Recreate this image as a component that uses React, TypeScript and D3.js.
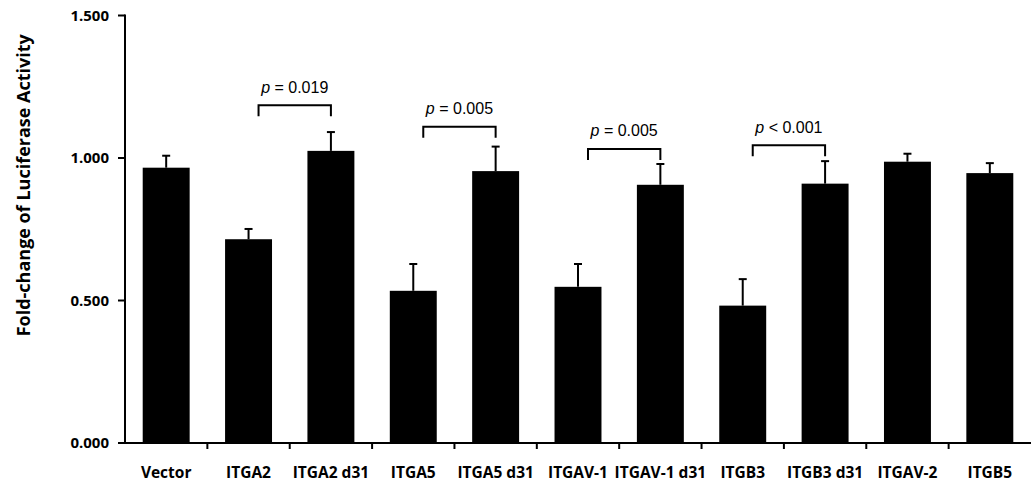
import React from "react";
import * as d3 from "d3";

// Fold-change of luciferase activity per construct (mean and SEM)
const categories = [
  "Vector",
  "ITGA2",
  "ITGA2 d31",
  "ITGA5",
  "ITGA5 d31",
  "ITGAV-1",
  "ITGAV-1 d31",
  "ITGB3",
  "ITGB3 d31",
  "ITGAV-2",
  "ITGB5",
];
const means = [0.966, 0.715, 1.025, 0.534, 0.954, 0.548, 0.906, 0.482, 0.91, 0.987, 0.947];
const errors = [0.042, 0.036, 0.066, 0.094, 0.086, 0.08, 0.073, 0.093, 0.079, 0.028, 0.035];
const yTicks = [0, 0.5, 1.0, 1.5];

// significance brackets: from / to category, bracket height, label
const sigFrom = ["ITGA2", "ITGA5", "ITGAV-1", "ITGB3"];
const sigTo = ["ITGA2 d31", "ITGA5 d31", "ITGAV-1 d31", "ITGB3 d31"];
const sigLevel = [1.185, 1.11, 1.032, 1.045];
const sigOp = ["=", "=", "=", "<"];
const sigValue = ["0.019", "0.005", "0.005", "0.001"];

const W = 1031;
const H = 485;
const margin = { left: 125, right: 0, top: 15.5, bottom: 42 };

export default function App() {
  const x = d3
    .scaleBand()
    .domain(categories)
    .range([margin.left, W - margin.right])
    .paddingInner(0)
    .paddingOuter(0);
  const y = d3
    .scaleLinear()
    .domain([0, 1.5])
    .range([H - margin.bottom, margin.top]);

  const bw = x.bandwidth() * 0.57;
  const cx = (c: string) => (x(c) as number) + x.bandwidth() / 2;
  const y0 = y(0);

  const labelFont = "'Open Sans', 'DejaVu Sans', sans-serif";

  return (
    <svg
      width={W}
      height={H}
      style={{ position: "absolute", left: 0, top: 0, background: "#fff" }}
    >
      {/* bars */}
      {categories.map((c, i) => (
        <rect
          key={c}
          x={cx(c) - bw / 2}
          y={y(means[i])}
          width={bw}
          height={y0 - y(means[i])}
          fill="#000"
        />
      ))}

      {/* error bars */}
      {categories.map((c, i) => (
        <g key={"e" + c} stroke="#000" strokeWidth={2}>
          <line x1={cx(c)} x2={cx(c)} y1={y(means[i])} y2={y(means[i] + errors[i])} />
          <line
            x1={cx(c) - 4}
            x2={cx(c) + 4}
            y1={y(means[i] + errors[i])}
            y2={y(means[i] + errors[i])}
          />
        </g>
      ))}

      {/* y axis */}
      <line x1={margin.left} x2={margin.left} y1={y0 + 1} y2={y(1.5) - 1} stroke="#000" strokeWidth={2} />
      {yTicks.map((t) => (
        <g key={t}>
          <line x1={margin.left - 7} x2={margin.left} y1={y(t)} y2={y(t)} stroke="#000" strokeWidth={2} />
          <text
            x={margin.left - 16}
            y={y(t)}
            dy="0.35em"
            textAnchor="end"
            fontFamily={labelFont}
            fontWeight="bold"
            fontSize={15}
          >
            {d3.format(".3f")(t)}
          </text>
        </g>
      ))}

      {/* x axis */}
      <line x1={margin.left - 7} x2={W} y1={y0} y2={y0} stroke="#000" strokeWidth={2} />
      {categories.map((c, i) =>
        i === 0 ? null : (
          <line key={"t" + c} x1={x(c)} x2={x(c)} y1={y0} y2={y0 + 6} stroke="#000" strokeWidth={2} />
        )
      )}
      {categories.map((c) => (
        <text
          key={"l" + c}
          x={cx(c)}
          y={y0 + 30}
          dy="0.35em"
          textAnchor="middle"
          fontFamily={labelFont}
          fontWeight="bold"
          fontSize={15.5}
        >
          {c}
        </text>
      ))}

      {/* y axis title */}
      <text
        transform={`translate(24, ${(y(0) + y(1.5)) / 2 - 44}) rotate(-90)`}
        textAnchor="middle"
        dy="0.35em"
        fontFamily={labelFont}
        fontWeight="bold"
        fontSize={18}
      >
        Fold-change of Luciferase Activity
      </text>

      {/* significance brackets */}
      {sigFrom.map((f, i) => {
        const x1 = cx(f) + 10;
        const x2 = cx(sigTo[i]);
        const yb = y(sigLevel[i]);
        return (
          <g key={"s" + f}>
            <path
              d={`M${x1},${yb + 11}V${yb}H${x2}V${yb + 11}`}
              fill="none"
              stroke="#000"
              strokeWidth={2}
            />
            <text
              x={(x1 + x2) / 2}
              y={yb - 18}
              dy="0.35em"
              textAnchor="middle"
              fontFamily="'Liberation Sans', Arial, sans-serif"
              fontSize={16}
            >
              <tspan fontStyle="italic">p</tspan>
              {` ${sigOp[i]} ${sigValue[i]}`}
            </text>
          </g>
        );
      })}
    </svg>
  );
}
